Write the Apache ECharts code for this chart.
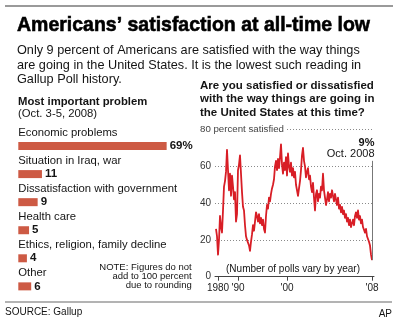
<!DOCTYPE html>
<html>
<head>
<meta charset="utf-8">
<script src="https://cdn.jsdelivr.net/npm/echarts@6/dist/echarts.min.js"></script>
<style>
  html, body { margin: 0; padding: 0; background: #fff; }
  #chart { width: 399px; height: 322px; }
</style>
</head>
<body>
<div id="chart"></div>
<script>
// Most important problem (Oct. 3-5, 2008), percent
const problemNames = [
  'Economic problems',
  'Situation in Iraq, war',
  'Dissatisfaction with government',
  'Health care',
  'Ethics, religion, family decline',
  'Other'
];
const problemShares = [69, 11, 9, 5, 4, 6];

// Percent satisfied, one value per poll, 1979 through Oct. 2008
const satisfaction = [
  26, 22, 12, 20, 33, 27, 24, 36, 49, 52,
  57, 69, 58, 47, 56, 44, 55, 49, 42, 46,
  30, 34, 58, 61, 66, 56, 46, 38, 36, 28,
  22, 20, 19, 17, 14, 19, 23, 28, 25, 30,
  35, 33, 30, 34, 29, 32, 28, 31, 26, 24,
  33, 39, 37, 43, 41, 45, 48, 50, 53, 60,
  63, 58, 64, 59, 65, 72, 61, 56, 62, 58,
  65, 55, 67, 60, 57, 62, 55, 59, 54, 57,
  50, 47, 44, 48, 52, 58, 66, 70, 63, 60,
  54, 57, 59, 53, 55, 49, 46, 51, 43, 36,
  45, 47, 41, 45, 43, 49, 47, 56, 47, 43,
  39, 42, 46, 41, 45, 43, 47, 44, 41, 45,
  42, 39, 43, 37, 39, 35, 38, 34, 36, 32,
  34, 30, 32, 28, 31, 27, 29, 31, 28, 33,
  35, 32, 36, 31, 33, 29, 31, 27, 28, 24,
  26, 22, 23, 19, 17, 12, 9
];

// Year ticks sit at poll positions (the number of polls varies by year)
const yearTickIndex = [2, 22, 71, 156];
const yearTickLabels = ['1980', "'90", "'00", "'08"];
const lastPollLabel = 'Oct. 2008';

const FONT = '"Liberation Sans", Arial, Helvetica, sans-serif';
const INK = '#141414';
const RULE = '#9a9a9a';
const BAR = '#cd5a44';
const LINE = '#d81e26';

const last = satisfaction.length - 1;
const markerTop = 63; // top of the marker line above the latest poll

const chart = echarts.init(document.getElementById('chart'), null, { renderer: 'canvas' });

chart.setOption({
  animation: false,
  textStyle: { fontFamily: FONT },
  grid: [
    { left: 18.3, top: 132, width: 172, height: 168.4 },
    { left: 215, right: 25, top: 129.6, bottom: 45.3 }
  ],
  xAxis: [
    { gridIndex: 0, type: 'value', min: 0, max: 80, show: false },
    {
      gridIndex: 1, type: 'value', min: -1, max: 158,
      axisLine: { lineStyle: { color: '#444', width: 1 } },
      axisTick: { customValues: yearTickIndex, length: 4, lineStyle: { color: '#444' } },
      axisLabel: {
        customValues: yearTickIndex,
        formatter: v => { const k = yearTickIndex.indexOf(v); return k >= 0 ? yearTickLabels[k] : ''; },
        fontSize: 10, color: '#222', margin: 7, fontFamily: FONT
      },
      splitLine: { show: false }
    }
  ],
  yAxis: [
    { gridIndex: 0, type: 'category', data: problemNames, inverse: true, show: false },
    {
      gridIndex: 1, type: 'value', min: 0, max: 80, interval: 20,
      axisLine: { show: false },
      axisTick: { show: false },
      axisLabel: {
        formatter: v => (v === 80 ? '' : String(v)),
        fontSize: 10, color: '#333', margin: 4, fontFamily: FONT
      },
      splitLine: { lineStyle: { type: [1, 2], color: '#8a8a8a', width: 1 } }
    }
  ],
  series: [
    {
      type: 'bar', xAxisIndex: 0, yAxisIndex: 0,
      data: problemShares, barWidth: 8, silent: true, z: 3,
      itemStyle: { color: BAR },
      label: {
        show: true, position: 'right', distance: 3,
        formatter: p => (p.dataIndex === 0 ? p.value + '%' : String(p.value)),
        fontWeight: 'bold', fontSize: 11.5, color: INK, fontFamily: FONT
      }
    },
    {
      // transparent twin of the bars, carrying the category names above them
      type: 'bar', xAxisIndex: 0, yAxisIndex: 0,
      data: problemShares, barWidth: 8, barGap: '-100%', silent: true, z: 2,
      itemStyle: { color: 'rgba(0,0,0,0)' },
      label: {
        show: true, position: [0, -9.5], align: 'left', verticalAlign: 'middle',
        formatter: '{b}', fontSize: 11.3, color: INK, fontFamily: FONT
      }
    },
    {
      type: 'line', xAxisIndex: 1, yAxisIndex: 1,
      data: satisfaction.map((v, i) => [i, v]),
      showSymbol: false, silent: true, z: 4,
      lineStyle: { color: LINE, width: 1.8, join: 'round' },
      markLine: {
        symbol: 'none', silent: true,
        label: { show: false },
        lineStyle: { color: '#777', width: 1, type: 'solid' },
        data: [[{ coord: [last, satisfaction[last]] }, { coord: [last, markerTop] }]]
      }
    }
  ]
});

function textWidth(str, font) {
  const ctx = document.createElement('canvas').getContext('2d');
  ctx.font = font;
  return ctx.measureText(str).width;
}

const title = 'Americans\u2019 satisfaction at all-time low';
const titleSize = 21;
const titleScale = 353 / textWidth(title, 'bold ' + titleSize + 'px ' + FONT);

const p80 = chart.convertToPixel({ xAxisIndex: 1, yAxisIndex: 1 }, [0, 80]);
const pLast = chart.convertToPixel({ xAxisIndex: 1, yAxisIndex: 1 }, [last, markerTop]);

function txt(text, x, y, extra) {
  return {
    type: 'text', silent: true, z: 10,
    style: Object.assign({
      text: text, x: x, y: y, fill: INK,
      fontFamily: FONT, fontSize: 11, align: 'left', verticalAlign: 'middle'
    }, extra || {})
  };
}

chart.setOption({
  graphic: [
    { type: 'line', silent: true, shape: { x1: 5, y1: 6, x2: 393, y2: 6 }, style: { stroke: RULE, lineWidth: 2 } },
    {
      type: 'text', silent: true, x: 17, y: 25.5, scaleX: titleScale,
      style: {
        text: title, x: 0, y: 0, fill: '#000', stroke: '#000', lineWidth: 0.6,
        fontFamily: FONT, fontSize: titleSize, fontWeight: 'bold', verticalAlign: 'middle'
      }
    },
    txt('Only 9 percent of Americans are satisfied with the way things\nare going in the United States. It is the lowest such reading in\nGallup Poll history.',
      17, 43.7, { fontSize: 12.7, lineHeight: 14.2, verticalAlign: 'top' }),
    txt('Most important problem', 18, 101.5, { fontSize: 11.3, fontWeight: 'bold' }),
    txt('(Oct. 3-5, 2008)', 18, 114, { fontSize: 11.3 }),
    txt('Are you satisfied or dissatisfied\nwith the way things are going in\nthe United States at this time?',
      200, 78.6, { fontSize: 11.5, fontWeight: 'bold', lineHeight: 13.5, verticalAlign: 'top' }),
    txt('80 percent satisfied', 200, p80[1], { fontSize: 9.7, fill: '#444', backgroundColor: '#fff', padding: [0, 2, 0, 0] }),
    txt('(Number of polls vary by year)', 293, 268.8, { fontSize: 10, align: 'center' }),
    txt('NOTE: Figures do not\nadd to 100 percent\ndue to rounding', 191.7, 262.4,
      { fontSize: 9.5, lineHeight: 9, align: 'right', verticalAlign: 'top' }),
    {
      type: 'text', silent: true, z: 10,
      style: {
        text: '{v|' + satisfaction[last] + '%}\n{d|' + lastPollLabel + '}',
        x: pLast[0] + 2.5, y: pLast[1] - 1, align: 'right', verticalAlign: 'bottom',
        fill: INK, fontFamily: FONT,
        rich: {
          v: { fontSize: 11, fontWeight: 'bold', lineHeight: 11, align: 'right', fontFamily: FONT, fill: INK },
          d: { fontSize: 11, lineHeight: 11, align: 'right', fontFamily: FONT, fill: INK }
        }
      }
    },
    { type: 'line', silent: true, shape: { x1: 5, y1: 302, x2: 392, y2: 302 }, style: { stroke: RULE, lineWidth: 1.5 } },
    txt('SOURCE: Gallup', 5, 312, { fontSize: 10 }),
    txt('AP', 392, 314, { fontSize: 10, align: 'right' })
  ]
});
</script>
</body>
</html>
